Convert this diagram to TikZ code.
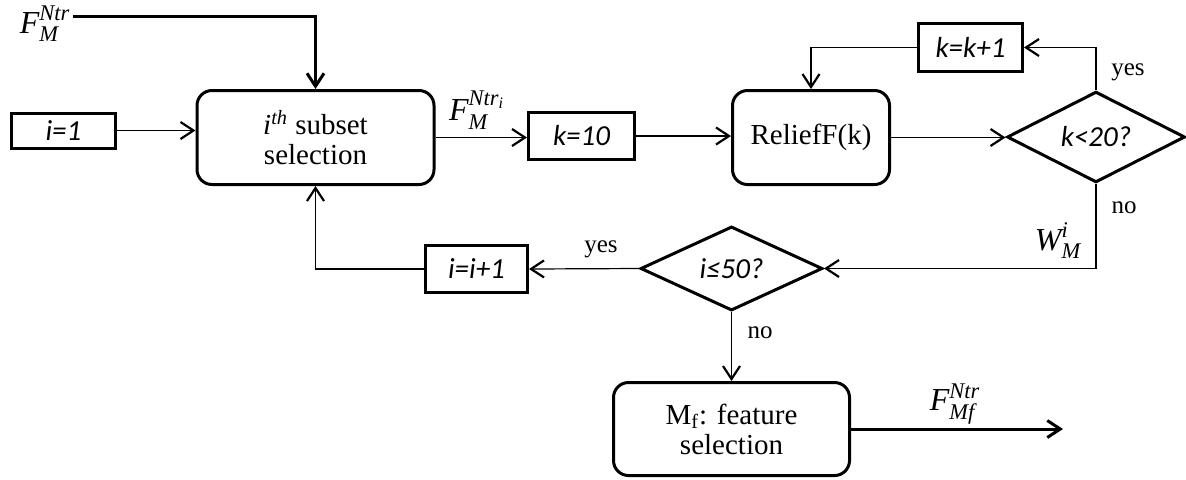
\documentclass[tikz,border=0pt]{standalone}
\usepackage{amsmath}
\usepackage{fontspec}
\setmainfont{Liberation Serif}
\newfontfamily\calibfont{Carlito}
\usetikzlibrary{shapes.geometric,arrows.meta}
\begin{document}
\begin{tikzpicture}[x=0.5pt,y=-0.5pt,
  sqbox/.style={draw,line width=1.5pt,inner sep=0pt,align=center,font=\calibfont\itshape\fontsize{14.5}{16}\selectfont},
  rbox/.style={draw,line width=1.5pt,rounded corners=7.5pt,inner sep=0pt,align=center,font=\fontsize{14.5}{15}\selectfont},
  dbox/.style={draw,diamond,line width=1.5pt,inner sep=0pt,font=\calibfont\itshape\fontsize{14.5}{16}\selectfont},
  thinarr/.style={line width=0.6pt,-{Straight Barb[length=6.5pt,width=8.5pt,line width=1.1pt]}},
  thickarr/.style={line width=1.5pt,-{Straight Barb[length=6.5pt,width=8.5pt,line width=1.5pt]}},
  lbl/.style={inner sep=0pt,font=\fontsize{12.5}{14}\selectfont},
  mlbl/.style={inner sep=0pt,font=\fontsize{16}{18}\selectfont}
]
\useasboundingbox (0,0) rectangle (1186,479);

% nodes
\node[sqbox,minimum width=52pt,minimum height=17.5pt] (i1) at (63.5,130.5) {i=1};
\node[rbox,minimum width=118.5pt,minimum height=47pt] (sub) at (315.5,137.5) {\textit{i}\textsuperscript{\textit{th}} subset\\selection};
\node[sqbox,minimum width=53pt,minimum height=23.5pt] (k10) at (581.5,136) {k=10};
\node[rbox,minimum width=78.5pt,minimum height=47pt] (rel) at (811,137.5) {ReliefF(k)};
\node[dbox,minimum width=89pt,minimum height=40pt] (d1) at (1096,137) {k<20?};
\node[sqbox,minimum width=52pt,minimum height=24pt] (kk) at (970.5,47.5) {k=k+1};
\node[dbox,minimum width=91pt,minimum height=40pt] (d2) at (731.5,268.5) {i≤50?};
\node[sqbox,minimum width=51pt,minimum height=23.5pt] (ii) at (476.5,269) {i=i+1};
\node[rbox,minimum width=118pt,minimum height=46.5pt] (mf) at (731.5,429) {M\textsubscript{f}: feature\\selection};

% free ends
\coordinate (fin) at (73,16);
\coordinate (fout) at (1063,429);

% labels
\node[mlbl] (lfin) at (45,24) {$\textit{F}^{\textit{Ntr}}_{\textit{M}}$};
\node[mlbl] (lfi) at (477,110) {$\textit{F}^{\textit{Ntr}_{\textit{i}}}_{\textit{M}}$};
\node[mlbl] (lw) at (1058,241) {$\textit{W}^{\textit{i}}_{\textit{M}}$};
\node[mlbl] (lfout) at (955,404) {$\textit{F}^{\textit{Ntr}}_{\textit{Mf}}$};
\node[lbl] (yes1) at (1128,72) {yes};
\node[lbl] (no1) at (1124,208) {no};
\node[lbl] (yes2) at (601,249) {yes};
\node[lbl] (no2) at (760,333) {no};

% connectors
\draw[thickarr] (fin) -| (sub.north);
\draw[thinarr] (i1.east) -- (i1.east -| sub.west);
\draw[thinarr] (sub.east) -- (sub.east -| k10.west);
\draw[thinarr] (k10.east) -- (k10.east -| rel.west);
\draw[thinarr] (rel.east) -- (rel.east -| d1.west);
\draw[thinarr] (d1.north) |- (kk.east);
\draw[thinarr] (kk.west) -| (rel.north);
\draw[thinarr] (d1.south) |- (d2.east);
\draw[thinarr] (d2.west) -- (ii.east);
\draw[thinarr] (ii.west) -| (sub.south);
\draw[thinarr] (d2.south) -- (mf.north);
\draw[thickarr] (mf.east) -- (fout);
\end{tikzpicture}
\end{document}
